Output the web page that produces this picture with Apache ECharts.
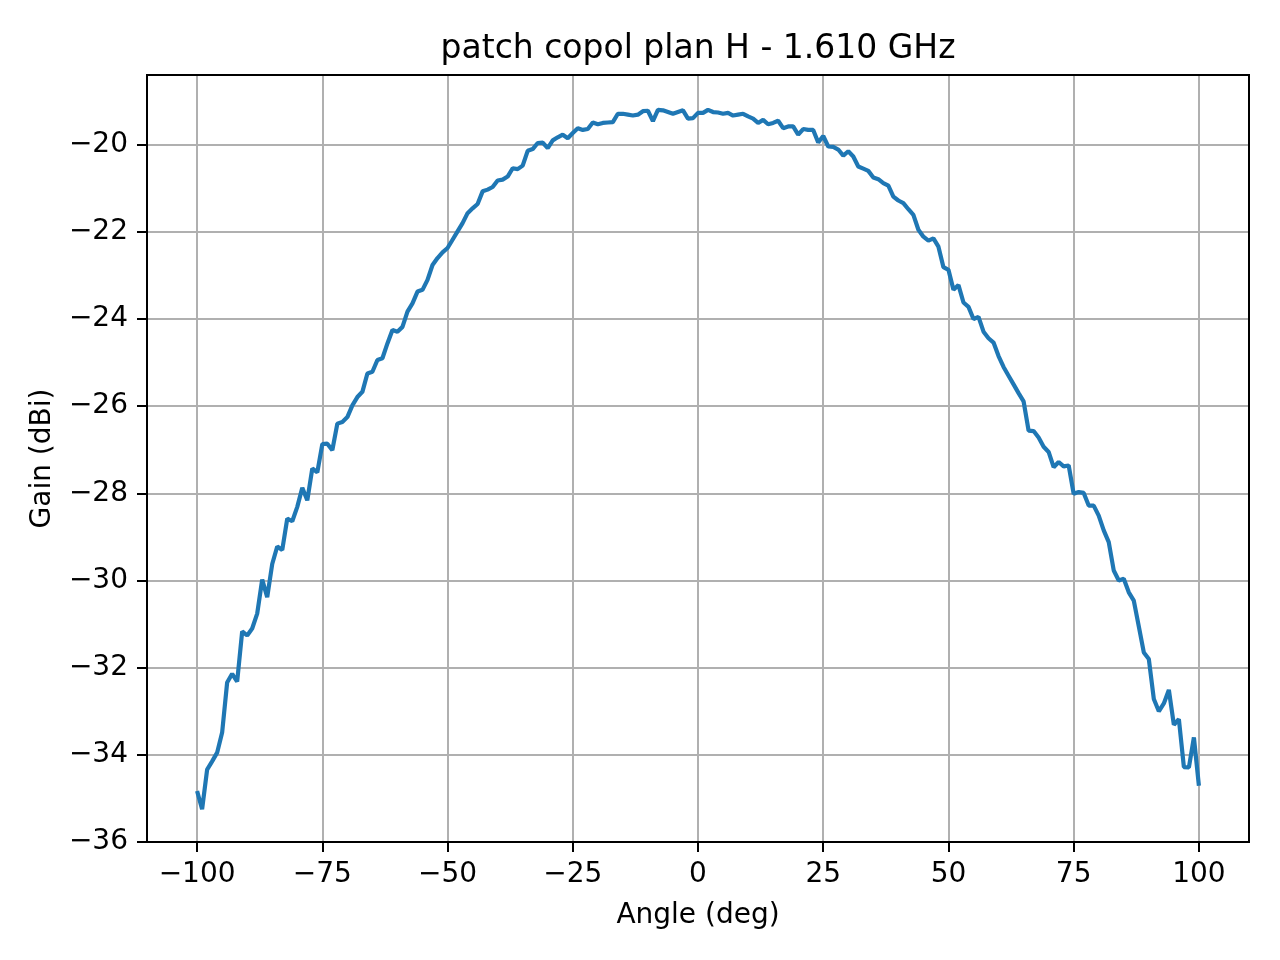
<!DOCTYPE html>
<html>
<head>
<meta charset="utf-8">
<script src="https://cdn.jsdelivr.net/npm/echarts@6/dist/echarts.min.js"></script>
<style>
  html, body { margin: 0; padding: 0; background: #fff; }
  #chart { width: 1280px; height: 960px; }
</style>
</head>
<body>
<div id="chart"></div>
<script>
// angle in degrees, one point per degree from -100 to 100
var angles = [];
for (var a = -100; a <= 100; a++) angles.push(a);

// gain (dBi)
var gainLeft = [
  -34.83, -35.25, -34.34, -34.15, -33.95, -33.49, -32.34, -32.14, -32.32, -31.17,
  -31.26, -31.10, -30.76, -29.98, -30.38, -29.62, -29.22, -29.30, -28.58, -28.64,
  -28.31, -27.87, -28.16, -27.43, -27.52, -26.87, -26.86, -27.01, -26.40, -26.36,
  -26.25, -25.98, -25.79, -25.67, -25.25, -25.21, -24.94, -24.90, -24.56, -24.25,
  -24.29, -24.18, -23.83, -23.64, -23.37, -23.33, -23.10, -22.76, -22.60, -22.47,
  -22.37, -22.18, -21.99, -21.80, -21.57, -21.46, -21.36, -21.07, -21.03, -20.97,
  -20.82, -20.80, -20.73, -20.54, -20.56, -20.48, -20.14, -20.10, -19.96, -19.95,
  -20.08, -19.90, -19.83, -19.77, -19.85, -19.73, -19.62, -19.66, -19.64, -19.49,
  -19.53, -19.50, -19.49, -19.48, -19.29, -19.29, -19.31, -19.33, -19.31, -19.23,
  -19.22, -19.46, -19.20, -19.21, -19.25, -19.29, -19.25, -19.21, -19.40, -19.39
];
var gainRight = [
  -19.27, -19.27, -19.20, -19.25, -19.26, -19.29, -19.27, -19.33, -19.31, -19.29,
  -19.35, -19.40, -19.50, -19.43, -19.53, -19.50, -19.45, -19.62, -19.58, -19.58,
  -19.77, -19.64, -19.66, -19.66, -19.95, -19.80, -20.04, -20.05, -20.11, -20.25,
  -20.15, -20.27, -20.50, -20.55, -20.60, -20.75, -20.79, -20.88, -20.94, -21.19,
  -21.28, -21.34, -21.48, -21.61, -21.95, -22.11, -22.20, -22.15, -22.34, -22.81,
  -22.87, -23.33, -23.22, -23.62, -23.72, -24.00, -23.95, -24.29, -24.44, -24.54,
  -24.85, -25.10, -25.30, -25.50, -25.70, -25.89, -26.56, -26.57, -26.72, -26.93,
  -27.05, -27.40, -27.28, -27.38, -27.36, -28.01, -27.97, -27.99, -28.28, -28.28,
  -28.51, -28.85, -29.12, -29.77, -30.00, -29.96, -30.27, -30.46, -31.05, -31.65,
  -31.80, -32.72, -33.00, -32.82, -32.51, -33.31, -33.18, -34.28, -34.29, -33.60,
  -34.71
];
var gain = gainLeft.concat(gainRight);

var xTickStep = 25;
var yTickStep = 2;

var font = 'DejaVu Sans';
var minus = function (v) { return String(v).replace('-', '\u2212'); };

var chart = echarts.init(document.getElementById('chart'));
chart.setOption({
  animation: false,
  backgroundColor: '#fff',
  title: {
    text: 'patch copol plan H - 1.610 GHz',
    left: 698, top: 33, textAlign: 'center', padding: 0,
    textStyle: { fontFamily: font, fontSize: 33, fontWeight: 'normal', color: '#000' }
  },
  grid: [
    // frame + data
    { left: 147, right: 31, top: 75, bottom: 118, show: true, borderColor: '#000', borderWidth: 2, z: 5 },
    // x ticks from -100 to 100
    { left: 197.1, right: 81.1, top: 75, bottom: 118 },
    // y ticks from -36 to -20
    { left: 147, right: 31, top: 144.7, bottom: 118 }
  ],
  xAxis: [
    { type: 'value', gridIndex: 0, min: -110, max: 110,
      axisLine: { show: false, onZero: false }, axisTick: { show: false }, axisLabel: { show: false }, splitLine: { show: false },
      name: 'Angle (deg)', nameLocation: 'middle', nameGap: 60,
      nameTextStyle: { fontFamily: font, fontSize: 28, color: '#000' } },
    { type: 'value', gridIndex: 1, min: -100, max: 100, interval: xTickStep,
      axisLine: { show: false, onZero: false },
      axisTick: { show: true, length: 10, lineStyle: { color: '#000', width: 2 } },
      axisLabel: { margin: 19, fontFamily: font, fontSize: 28, color: '#000', formatter: minus },
      splitLine: { show: true, lineStyle: { color: '#b0b0b0', width: 2 } } },
    { type: 'value', gridIndex: 2, min: -110, max: 110, show: false }
  ],
  yAxis: [
    { type: 'value', gridIndex: 0, min: -36, max: -18.4,
      axisLine: { show: false, onZero: false }, axisTick: { show: false }, axisLabel: { show: false }, splitLine: { show: false },
      name: 'Gain (dBi)', nameLocation: 'middle', nameGap: 90,
      nameTextStyle: { fontFamily: font, fontSize: 28, color: '#000' } },
    { type: 'value', gridIndex: 1, min: -36, max: -18.4, show: false },
    { type: 'value', gridIndex: 2, min: -36, max: -20, interval: yTickStep,
      axisLine: { show: false, onZero: false },
      axisTick: { show: true, length: 10, lineStyle: { color: '#000', width: 2 } },
      axisLabel: { margin: 19, fontFamily: font, fontSize: 28, color: '#000', formatter: minus },
      splitLine: { show: true, showMinLine: false, lineStyle: { color: '#b0b0b0', width: 2 } } }
  ],
  series: [{
    type: 'line',
    xAxisIndex: 0, yAxisIndex: 0,
    data: angles.map(function (a, i) { return [a, gain[i]]; }),
    showSymbol: false,
    lineStyle: { color: '#1f77b4', width: 4.2 },
    z: 3
  }]
});
</script>
</body>
</html>
